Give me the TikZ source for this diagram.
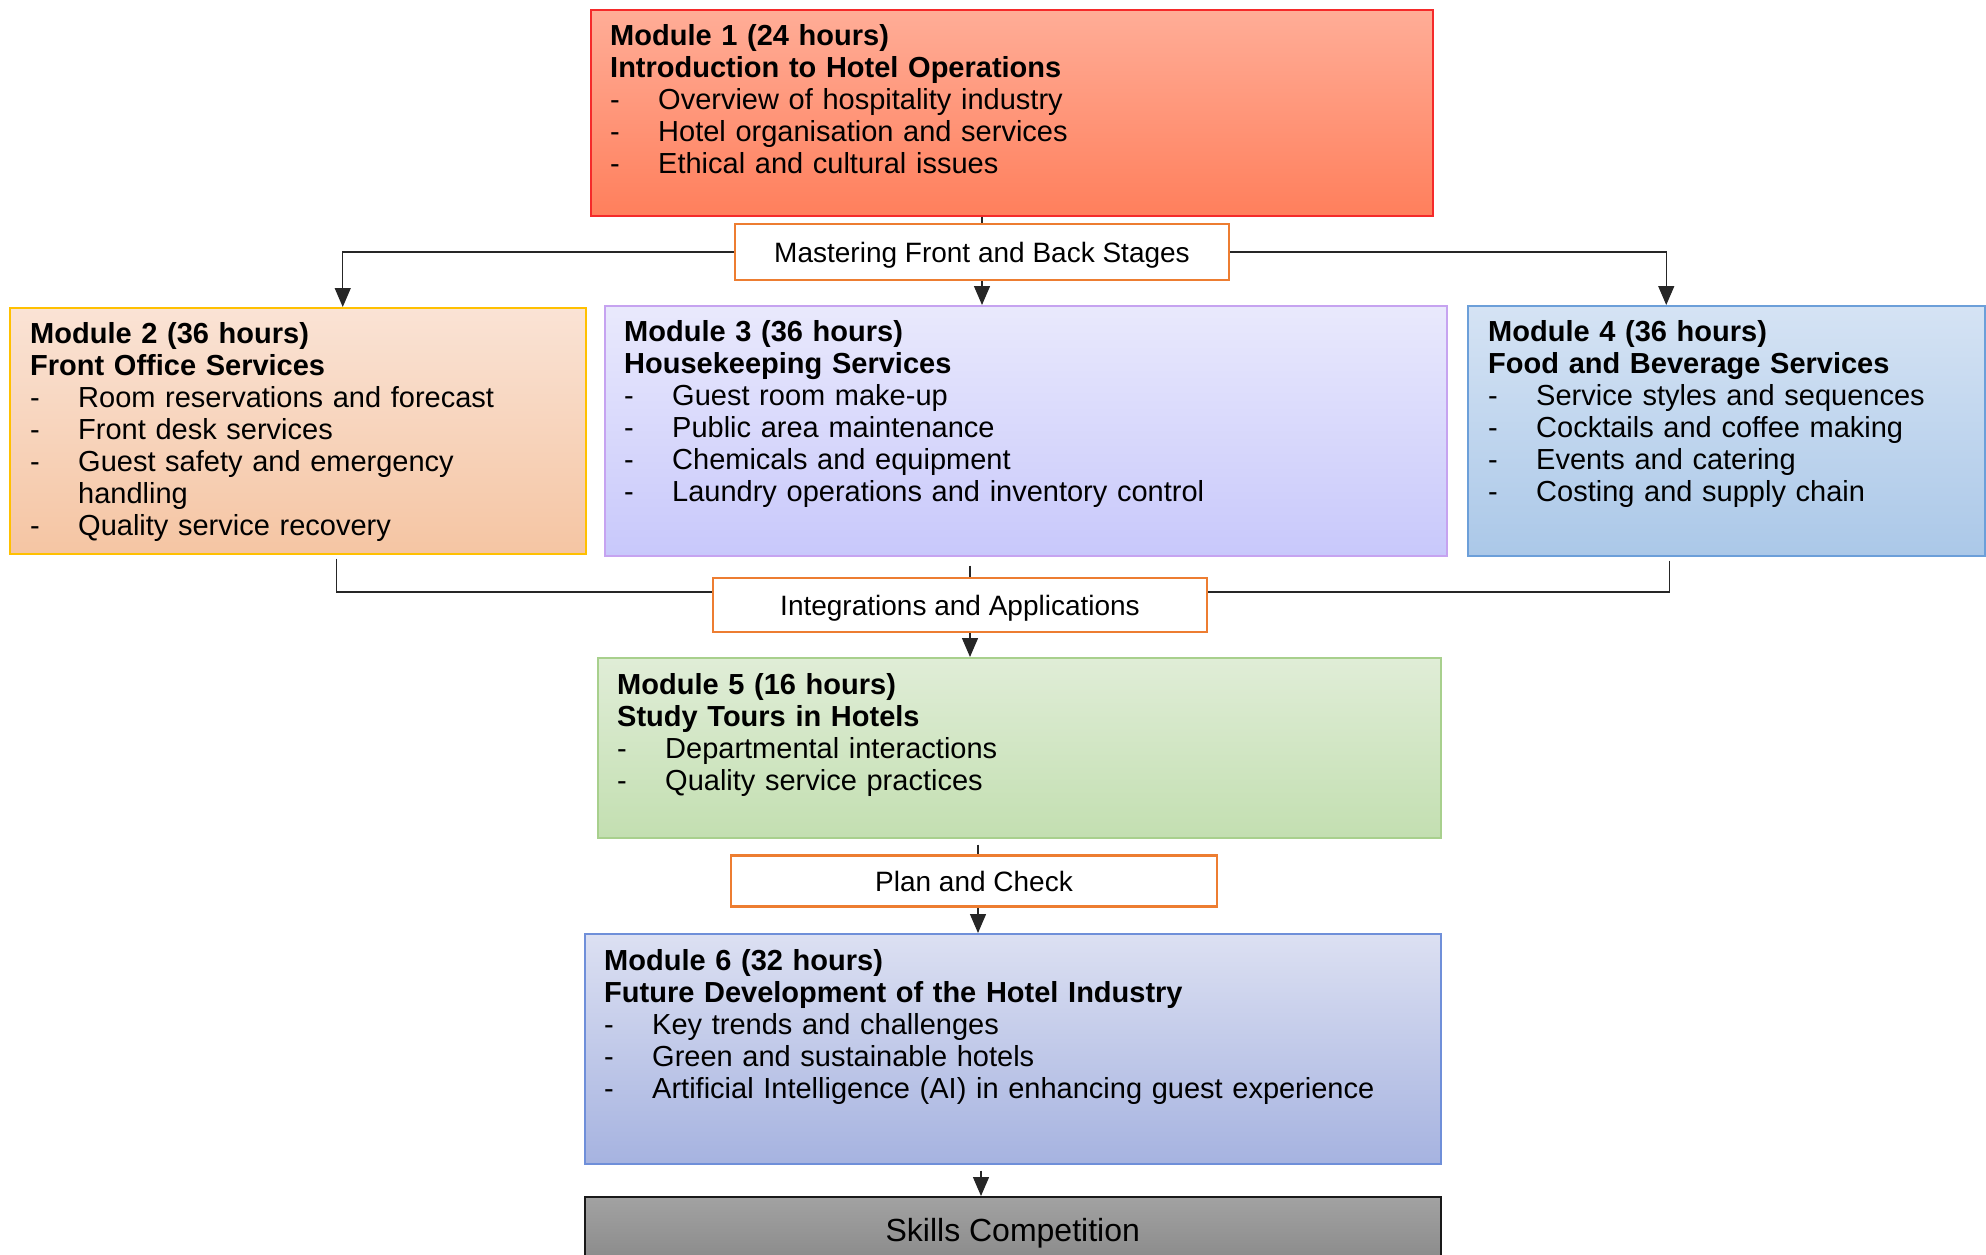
\documentclass[tikz,border=0pt]{standalone}
\usepackage{fontspec}
\setmainfont{Liberation Sans}
\usetikzlibrary{positioning}
\usetikzlibrary{arrows.meta}
\usetikzlibrary{calc}

\definecolor{oneTop}{HTML}{FFAD97}
\definecolor{oneBot}{HTML}{FF7F5C}
\definecolor{oneLine}{HTML}{F52A2A}
\definecolor{twoTop}{HTML}{FAE3D5}
\definecolor{twoBot}{HTML}{F5C5A3}
\definecolor{twoLine}{HTML}{FFC000}
\definecolor{threeTop}{HTML}{E9E9FC}
\definecolor{threeBot}{HTML}{C8C8FB}
\definecolor{threeLine}{HTML}{C6A3F0}
\definecolor{fourTop}{HTML}{D5E3F4}
\definecolor{fourBot}{HTML}{ABC8E8}
\definecolor{fourLine}{HTML}{6C9FD9}
\definecolor{fiveTop}{HTML}{E0EDD7}
\definecolor{fiveBot}{HTML}{C3DFB1}
\definecolor{fiveLine}{HTML}{A8D08D}
\definecolor{sixTop}{HTML}{DCE0F2}
\definecolor{sixBot}{HTML}{A6B3E0}
\definecolor{sixLine}{HTML}{6F8FD9}
\definecolor{skillTop}{HTML}{A2A2A2}
\definecolor{skillBot}{HTML}{7A7A7A}
\definecolor{stageLine}{HTML}{ED7D31}

\tikzset{
  modbox/.style={draw, line width=1.5pt, anchor=north west, inner sep=0pt},
  modtext/.style={anchor=base west, align=left, inner sep=0pt, font=\fontsize{29}{32}\selectfont},
  stagebox/.style={draw=stageLine, line width=2.5pt, fill=white, inner sep=0pt, font=\fontsize{28}{32}\selectfont},
  link/.style={line width=1.3pt, draw=black!85},
  arrowlink/.style={link, -{Triangle[width=16pt,length=19pt]}},
}
\newcommand{\dashitem}[1]{\makebox[48pt][l]{-}#1}

\begin{document}
\begin{tikzpicture}[x=1pt, y=-1pt]
  \useasboundingbox (0,0) rectangle (1986,1254);

  % module boxes
  \node[modbox, top color=oneTop, bottom color=oneBot, draw=oneLine, minimum width=842pt, minimum height=206pt] (m1) at (590,9) {};
  \node[modtext, text width=800pt] (m1text) at ($(m1.north west)+(20,36)$) {\textbf{Module 1 (24 hours)}\\ \textbf{Introduction to Hotel Operations}\\ \dashitem{Overview of hospitality industry}\\ \dashitem{Hotel organisation and services}\\ \dashitem{Ethical and cultural issues}};

  \node[modbox, top color=twoTop, bottom color=twoBot, draw=twoLine, minimum width=576pt, minimum height=246pt] (m2) at (9,307) {};
  \node[modtext, text width=540pt] (m2text) at ($(m2.north west)+(21,36)$) {\textbf{Module 2 (36 hours)}\\ \textbf{Front Office Services}\\ \dashitem{Room reservations and forecast}\\ \dashitem{Front desk services}\\ \dashitem{Guest safety and emergency}\\ \hspace*{48pt}handling\\ \dashitem{Quality service recovery}};

  \node[modbox, top color=threeTop, bottom color=threeBot, draw=threeLine, minimum width=842pt, minimum height=250pt] (m3) at (604,305) {};
  \node[modtext, text width=800pt] (m3text) at ($(m3.north west)+(20,36)$) {\textbf{Module 3 (36 hours)}\\ \textbf{Housekeeping Services}\\ \dashitem{Guest room make-up}\\ \dashitem{Public area maintenance}\\ \dashitem{Chemicals and equipment}\\ \dashitem{Laundry operations and inventory control}};

  \node[modbox, top color=fourTop, bottom color=fourBot, draw=fourLine, minimum width=517pt, minimum height=250pt] (m4) at (1467,305) {};
  \node[modtext, text width=480pt] (m4text) at ($(m4.north west)+(21,36)$) {\textbf{Module 4 (36 hours)}\\ \textbf{Food and Beverage Services}\\ \dashitem{Service styles and sequences}\\ \dashitem{Cocktails and coffee making}\\ \dashitem{Events and catering}\\ \dashitem{Costing and supply chain}};

  \node[modbox, top color=fiveTop, bottom color=fiveBot, draw=fiveLine, minimum width=843pt, minimum height=180pt] (m5) at (597,657) {};
  \node[modtext, text width=800pt] (m5text) at ($(m5.north west)+(20,37)$) {\textbf{Module 5 (16 hours)}\\ \textbf{Study Tours in Hotels}\\ \dashitem{Departmental interactions}\\ \dashitem{Quality service practices}};

  \node[modbox, top color=sixTop, bottom color=sixBot, draw=sixLine, minimum width=856pt, minimum height=230pt] (m6) at (584,933) {};
  \node[modtext, text width=816pt] (m6text) at ($(m6.north west)+(20,37)$) {\textbf{Module 6 (32 hours)}\\ \textbf{Future Development of the Hotel Industry}\\ \dashitem{Key trends and challenges}\\ \dashitem{Green and sustainable hotels}\\ \dashitem{Artificial Intelligence (AI) in enhancing guest experience}};

  \node[modbox, top color=skillTop, bottom color=skillBot, draw=black!90, minimum width=856pt, minimum height=110pt] (skills) at (584,1196) {};
  \node[anchor=center, inner sep=0pt, font=\fontsize{32}{36}\selectfont] (skilltext) at ($(skills.north)+(0,37)$) {Skills Competition};

  % stage labels
  \node[stagebox, text height=23pt, text depth=3pt, minimum width=494pt, minimum height=56pt] (stage1) at (982,252) {Mastering Front and Back Stages};
  \node[stagebox, text height=23pt, text depth=3pt, minimum width=494pt, minimum height=54pt] (stage2) at (960,605) {Integrations and Applications};
  \node[stagebox, minimum width=486pt, minimum height=51pt] (stage3) at (974,881) {Plan and Check};

  % connectors
  \draw[link] (m1.south -| stage1.north) -- (stage1.north);
  \draw[arrowlink] (stage1.south) -- (stage1.south |- m3.north);
  \draw[arrowlink] (stage1.west) -| ([xshift=45pt]m2.north);
  \draw[arrowlink] (stage1.east) -| ([xshift=-60pt]m4.north);

  \coordinate (midin) at ([xshift=10pt]stage2.north);
  \coordinate (midout) at ([xshift=10pt]stage2.south);
  \draw[link] ($(m3.south -| midin)+(0,9)$) -- (midin);
  \draw[link] ($(m2.south)+(39,4)$) |- ($(stage2.west)+(0,-13)$);
  \draw[link] ($(m4.south)+(-57,4)$) |- ($(stage2.east)+(0,-13)$);
  \draw[arrowlink] (midout) -- (midout |- m5.north);

  \draw[link] ($(m5.south -| stage3.north)+(4,6)$) -- ([xshift=4pt]stage3.north);
  \draw[arrowlink] ([xshift=4pt]stage3.south) -- ($(m6.north -| stage3.south)+(4,0)$);
  \draw[arrowlink] ($(m6.south -| stage3.south)+(7,6)$) -- ($(skills.north -| stage3.south)+(7,0)$);
\end{tikzpicture}
\end{document}
